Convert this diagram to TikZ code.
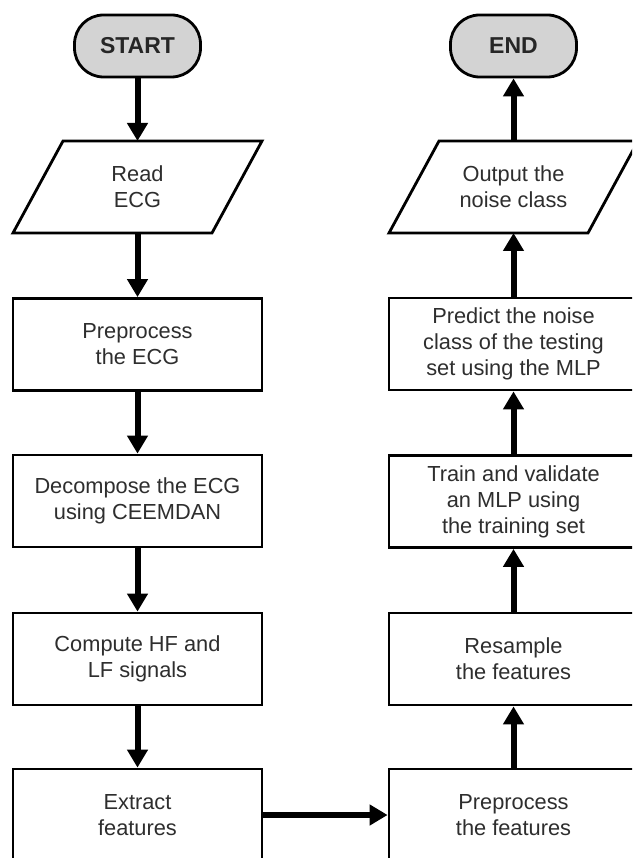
\documentclass[tikz,border=0pt]{standalone}
\usepackage{fontspec}
\setmainfont{Liberation Sans}
\usetikzlibrary{arrows.meta}
\definecolor{txt}{HTML}{2E2E2E}
\definecolor{pill}{HTML}{D3D3D3}
\begin{document}
\begin{tikzpicture}[x=1pt,y=-1pt,
  every node/.style={font=\fontsize{21.8}{26}\selectfont, text=txt, align=center},
  ln/.style={line width=2.8pt, line join=miter},
  terminal/.style={ln, draw=black, fill=pill, rounded corners=29pt,
    minimum width=126pt, minimum height=62pt, inner sep=0pt,
    font=\fontsize{23}{26}\selectfont\bfseries, text=black!85},
  procbox/.style={ln, draw=black, fill=white, minimum width=249pt, minimum height=92pt, inner sep=0pt},
  iobox/.style={minimum width=249pt, minimum height=92pt, inner sep=0pt, outer sep=0pt},
  flow/.style={line width=6pt, -{Triangle[length=18pt,width=20pt]}, shorten <=-1pt}
]
\useasboundingbox (0,0) rectangle (632,858);
\fill[white] (0,0) rectangle (632,858);
\clip (0,0) rectangle (632,858);

% left column
\node[terminal] (start)   at (137.5,46)  {START};
\node[iobox]    (read)    at (137.5,187) {Read\\ECG};
\node[procbox]  (prep)    at (137.5,344.5) {Preprocess\\the ECG};
\node[procbox]  (decomp)  at (137.5,501) {Decompose the ECG\\using CEEMDAN};
\node[procbox]  (comp)    at (137.5,659) {Compute HF and\\LF signals};
\node[procbox]  (extract) at (137.5,815) {Extract\\features};

% right column
\node[terminal] (end)      at (513.5,46)  {END};
\node[iobox]    (output)   at (513.5,187) {Output the\\noise class};
\node[procbox]  (predict)  at (513.5,344) {Predict the noise\\class of the testing\\set using the MLP};
\node[procbox]  (train)    at (513.5,501.5) {Train and validate\\an MLP using\\the training set};
\node[procbox]  (resample) at (513.5,659) {Resample\\the features};
\node[procbox]  (prepfeat) at (513.5,815) {Preprocess\\the features};

% input / output parallelograms
\draw[ln] (read.south west) -- ++(199,0) -- (read.north east) -- ++(-199,0) -- cycle;
\draw[ln] (output.south west) -- ++(199,0) -- (output.north east) -- ++(-199,0) -- cycle;

% connectors
\draw[flow] (start) -- (read);
\draw[flow] (read) -- (prep);
\draw[flow] (prep) -- (decomp);
\draw[flow] (decomp) -- (comp);
\draw[flow] (comp) -- (extract);
\draw[flow] (extract) -- (prepfeat);
\draw[flow] (prepfeat) -- (resample);
\draw[flow] (resample) -- (train);
\draw[flow] (train) -- (predict);
\draw[flow] (predict) -- (output);
\draw[flow] (output) -- (end);
\end{tikzpicture}
\end{document}
